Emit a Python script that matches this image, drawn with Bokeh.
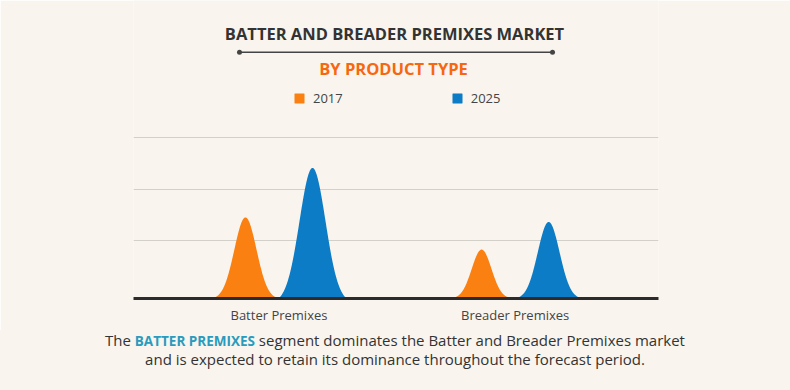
import numpy as np
from bokeh.plotting import figure
from bokeh.layouts import column
from bokeh.models import (Range1d, FixedTicker, Label, BoxAnnotation, Legend, LegendItem,
                          ColumnDataSource, Div)
from bokeh.embed import file_html
from bokeh.resources import INLINE

# ---- data ----
categories = ["Batter Premixes", "Breader Premixes"]
years = ["2017", "2025"]
values_2017 = [1.59, 0.96]
values_2025 = [2.56, 1.50]
grid_levels = [1.14, 2.14, 3.15]

colors = {"2017": "#fb8012", "2025": "#0c7cc6"}
BG = "#f9f5ee"
W = 790
FONT = "Open Sans"

# ---- main chart (frame spans y 0..298, x 133..658) ----
p = figure(width=W, height=330, output_backend="svg", toolbar_location=None,
           x_range=Range1d(-0.616, 1.607), y_range=Range1d(0, 5.843),
           min_border_left=133, min_border_right=132, min_border_top=0,
           min_border_bottom=32)
p.background_fill_color = BG
p.border_fill_color = BG
p.outline_line_color = None

p.xaxis.ticker = FixedTicker(ticks=list(range(len(categories))))
p.xaxis.major_label_overrides = {i: c for i, c in enumerate(categories)}
p.xaxis.axis_line_width = 3
p.xaxis.axis_line_color = "#2b2b2b"
p.xaxis.major_tick_line_color = None
p.xaxis.major_tick_out = 0
p.xaxis.major_tick_in = 0
p.xaxis.minor_tick_line_color = None
p.xaxis.minor_tick_out = 0
p.xaxis.major_label_text_font = FONT
p.xaxis.major_label_text_font_size = "13px"
p.xaxis.major_label_text_color = "#444444"
p.xaxis.major_label_standoff = 7
p.yaxis.visible = False
p.xgrid.visible = False
p.ygrid.ticker = FixedTicker(ticks=grid_levels)
p.ygrid.grid_line_color = "#d3cfc9"
p.ygrid.grid_line_width = 1

# bell-shaped areas (shape style: half base width and spread)
offset = 0.142
half = 0.144
renderers = {}
for yr, vals, sgn in [("2017", values_2017, -1), ("2025", values_2025, 1)]:
    rs = []
    for i, v in enumerate(vals):
        c = i + sgn * offset
        sigma = 0.034 + 0.0082 * v
        xs = np.linspace(c - half, c + half, 240)
        g = np.exp(-0.5 * ((xs - c) / sigma) ** 2)
        g0 = np.exp(-0.5 * (half / sigma) ** 2)
        ys = v * np.clip((g - g0) / (1 - g0), 0, None)
        src = ColumnDataSource(dict(x=xs, y1=np.zeros_like(xs), y2=ys))
        rs.append(p.varea(x="x", y1="y1", y2="y2", source=src, fill_color=colors[yr]))
    renderers[yr] = rs

legend = Legend(items=[LegendItem(label=yr, renderers=renderers[yr]) for yr in years],
                orientation="horizontal", location=(160, 191),
                glyph_width=12, glyph_height=12, label_height=12, label_standoff=8,
                spacing=108, padding=0, margin=0,
                border_line_color=None, background_fill_alpha=0,
                label_text_font=FONT, label_text_font_size="13px",
                label_text_color="#444444", label_text_baseline="middle")
p.add_layout(legend, "center")

# frame-relative coordinates (frame left = x 133, frame bottom = y 298)
def fx(page_x):
    return page_x - 133

def fy(page_y):
    return 298 - page_y

p.add_layout(Label(x=fx(394), y=fy(33), x_units="screen", y_units="screen",
                   text="BATTER AND BREADER PREMIXES MARKET", text_align="center",
                   text_baseline="middle", text_font=FONT, text_font_style="bold",
                   text_font_size="16.5px", text_color="#333333"))
p.add_layout(BoxAnnotation(left=fx(239), right=fx(552), top=fy(51), bottom=fy(52.5),
                           left_units="screen", right_units="screen", top_units="screen",
                           bottom_units="screen", fill_color="#444444", fill_alpha=1,
                           line_color=None))
for px in (239, 552):
    p.add_layout(BoxAnnotation(left=fx(px - 2.5), right=fx(px + 2.5), top=fy(49.3),
                               bottom=fy(54.3), left_units="screen", right_units="screen",
                               top_units="screen", bottom_units="screen",
                               fill_color="#444444", fill_alpha=1, line_color=None,
                               border_radius=3))
p.add_layout(Label(x=fx(393), y=fy(68), x_units="screen", y_units="screen",
                   text="BY PRODUCT TYPE", text_align="center", text_baseline="middle",
                   text_font=FONT, text_font_style="bold", text_font_size="16.5px",
                   text_color="#f7670f"))

# ---- footer sentence ----
footer_html = (
    '<div style="width:790px;height:60px;margin:0;padding-top:1px;text-align:center;'
    "font-family:'Open Sans',sans-serif;font-size:15px;line-height:18px;color:#333333;"
    'background:#f9f5ee;">'
    'The <span style="font-weight:bold;font-size:13.5px;color:#2a9bbd;">BATTER PREMIXES</span>'
    ' segment dominates the Batter and Breader Premixes market<br>'
    'and is expected to retain its dominance throughout the forecast period.</div>'
)
footer = Div(text=footer_html, width=W, height=60, margin=0)

layout = column(p, footer, spacing=0)
html = file_html(layout, INLINE)
html = html.replace("<body>", '<body style="background-color:#f9f5ee">', 1)
open("out.html", "w").write(html)
